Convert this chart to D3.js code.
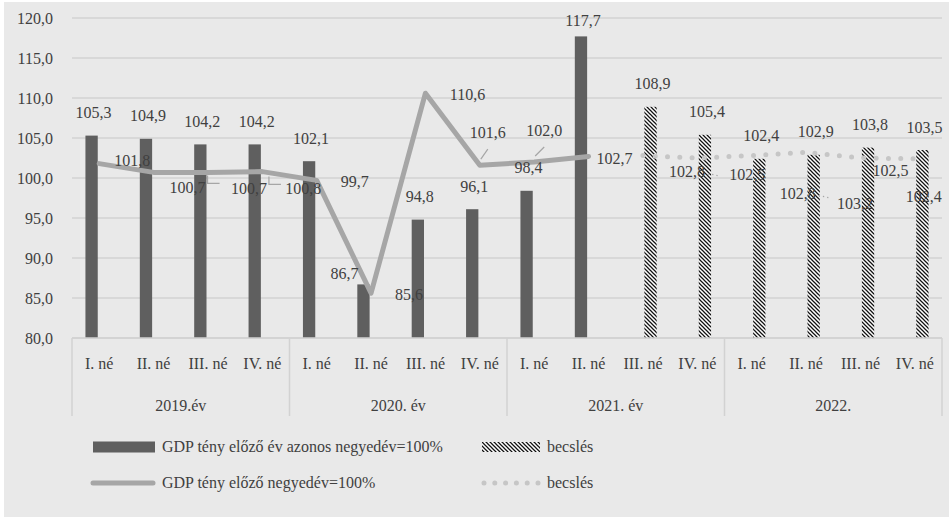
<!DOCTYPE html>
<html>
<head>
<meta charset="utf-8">
<script src="https://cdn.jsdelivr.net/npm/d3@7/dist/d3.min.js"></script>
<style>
  html, body { margin: 0; padding: 0; background: #ffffff; }
  svg { display: block; }
</style>
</head>
<body>
<svg id="chart" width="949" height="517"></svg>
<script>
// Quarterly GDP index: actual and estimated values
const years = ["2019.év", "2020. év", "2021. év", "2022."];
const quarters = ["I. né", "II. né", "III. né", "IV. né"];
const yTicks = [80, 85, 90, 95, 100, 105, 110, 115, 120];

// previous year same quarter = 100%
const yoyActual   = [105.3, 104.9, 104.2, 104.2, 102.1, 86.7, 94.8, 96.1, 98.4, 117.7, null, null, null, null, null, null];
const yoyEstimate = [null, null, null, null, null, null, null, null, null, null, 108.9, 105.4, 102.4, 102.9, 103.8, 103.5];
// previous quarter = 100%
const qoqActual   = [101.8, 100.7, 100.7, 100.8, 99.7, 85.6, 110.6, 101.6, 102.0, 102.7, null, null, null, null, null, null];
const qoqEstimate = [null, null, null, null, null, null, null, null, null, null, 102.8, 102.5, 102.8, 103.2, 102.5, 102.4];

const legendLabels = ["GDP tény előző év azonos negyedév=100%", "becslés", "GDP tény előző negyedév=100%", "becslés"];

const fmt = v => d3.format(".1f")(v).replace(".", ",");
const FONT = "'Liberation Serif', 'Times New Roman', serif";

// label placement for the line series (offset of the label centre from its point)
const lineLabelOffset = [
  [33, -3], [34, 15], [41, 16], [41, 17], [38, 1], [38, 1], [42, 1], [8, -33], [10, -32], [26, 2],
  [44, 16], [50, 16], [46, 38], [49, 51], [30, 12], [9, 38]
];

const svg = d3.select("#chart");
const W = 949, H = 517;
const M = { left: 72, right: 942, top: 18, bottom: 338 };

svg.append("rect").attr("x", 4).attr("y", 2).attr("width", W - 4).attr("height", H - 2).attr("fill", "#e9e9e9");

const defs = svg.append("defs");
const pat = defs.append("pattern")
  .attr("id", "hatch").attr("patternUnits", "userSpaceOnUse")
  .attr("width", 4).attr("height", 4);
pat.append("rect").attr("width", 4).attr("height", 4).attr("fill", "#ffffff");
pat.append("path")
  .attr("d", "M-1,-1 L5,5 M3,-1 L5,1 M-1,3 L1,5")
  .attr("stroke", "#111").attr("stroke-width", 1.25);

const idx = d3.range(16);
const x = d3.scaleBand().domain(idx).range([M.left, M.right]).padding(0);
const xs = d3.scaleBand().domain(["tény", "becslés"]).range([0, x.bandwidth()])
  .paddingInner(0.19).paddingOuter(0.885);
const y = d3.scaleLinear().domain([80, 120]).range([M.bottom, M.top]);
const cx = i => x(i) + x.bandwidth() / 2;

// grid
const grid = svg.append("g");
grid.selectAll("line").data(yTicks).join("line")
  .attr("x1", M.left).attr("x2", M.right)
  .attr("y1", d => y(d)).attr("y2", d => y(d))
  .attr("stroke", "#d2d2d2").attr("stroke-width", 1.5);

// y axis labels
const yAxis = d3.axisLeft(y).tickValues(yTicks).tickFormat(fmt).tickSize(0).tickPadding(19);
const ya = svg.append("g").attr("transform", `translate(${M.left},0)`).call(yAxis)
  .attr("font-family", null).attr("font-size", null);
ya.select(".domain").remove();
ya.selectAll("text").attr("font-size", 16).attr("fill", "#404040").attr("dy", "0.34em");

// bars
const barG = svg.append("g");
barG.selectAll("rect.act").data(idx.filter(i => yoyActual[i] != null)).join("rect")
  .attr("class", "act")
  .attr("x", i => x(i) + xs("tény")).attr("width", xs.bandwidth())
  .attr("y", i => y(yoyActual[i])).attr("height", i => y(80) - y(yoyActual[i]))
  .attr("fill", "#5f5f5f");
barG.selectAll("rect.est").data(idx.filter(i => yoyEstimate[i] != null)).join("rect")
  .attr("class", "est")
  .attr("x", i => x(i) + xs("becslés")).attr("width", xs.bandwidth())
  .attr("y", i => y(yoyEstimate[i])).attr("height", i => y(80) - y(yoyEstimate[i]))
  .attr("fill", "url(#hatch)");

// lines
const line = d3.line().defined(d => d.v != null).x(d => cx(d.i)).y(d => y(d.v));
svg.append("path")
  .attr("d", line(idx.map(i => ({ i, v: qoqActual[i] }))))
  .attr("fill", "none").attr("stroke", "#a6a6a6").attr("stroke-width", 5)
  .attr("stroke-linejoin", "round").attr("stroke-linecap", "round");
svg.append("path")
  .attr("d", line(idx.map(i => ({ i, v: qoqEstimate[i] }))))
  .attr("fill", "none").attr("stroke", "#c6c6c6").attr("stroke-width", 5)
  .attr("stroke-dasharray", "0 12.3").attr("stroke-linecap", "round");

// x axis: baseline, group separators, quarter & year labels
const xa = svg.append("g");
xa.append("line").attr("x1", M.left).attr("x2", M.right).attr("y1", M.bottom).attr("y2", M.bottom)
  .attr("stroke", "#d2d2d2").attr("stroke-width", 1.5);
xa.selectAll("line.sep").data(d3.range(5)).join("line").attr("class", "sep")
  .attr("x1", k => k < 4 ? x(k * 4) : M.right).attr("x2", k => k < 4 ? x(k * 4) : M.right)
  .attr("y1", M.bottom).attr("y2", 416)
  .attr("stroke", "#d2d2d2").attr("stroke-width", 1.5);
xa.selectAll("text.q").data(idx).join("text").attr("class", "q")
  .attr("x", i => cx(i)).attr("y", 368.5).attr("text-anchor", "middle").attr("font-size", 16)
  .text(i => quarters[i % 4]);
xa.selectAll("text.yr").data(years).join("text").attr("class", "yr")
  .attr("x", (d, k) => (x(k * 4) + (k < 3 ? x(k * 4 + 4) : M.right)) / 2).attr("y", 410.5)
  .attr("text-anchor", "middle").attr("font-size", 16)
  .text(d => d);

// bar value labels
const labG = svg.append("g").attr("font-size", 16);
const barLab = (arr, key) => idx.filter(i => arr[i] != null).map(i => {
  const bx = x(i) + xs(key) + xs.bandwidth() / 2;
  let lx = bx + 2, ly = Math.max(y(arr[i]) - 23, 20);
  if (key === "tény" && arr[i] < 90) { lx = bx - 19; ly = y(arr[i]) - 11; }
  return { lx, ly, t: fmt(arr[i]) };
});
labG.selectAll("text.bl").data(barLab(yoyActual, "tény").concat(barLab(yoyEstimate, "becslés"))).join("text")
  .attr("class", "bl").attr("x", d => d.lx).attr("y", d => d.ly + 5.5)
  .attr("text-anchor", "middle").text(d => d.t);

// line value labels
const lineVals = idx.map(i => qoqActual[i] != null ? qoqActual[i] : qoqEstimate[i]);
const lPts = idx.map(i => ({ i, px: cx(i), py: y(lineVals[i]),
  lx: cx(i) + lineLabelOffset[i][0], ly: y(lineVals[i]) + lineLabelOffset[i][1], t: fmt(lineVals[i]) }));

// leader lines from moved labels
const leadG = svg.append("g").attr("fill", "none");
lPts.filter(d => d.ly < d.py - 20).forEach(d => {
  leadG.append("line").attr("x1", d.lx).attr("y1", d.ly + 17).attr("x2", d.px + 1).attr("y2", d.py - 6)
    .attr("stroke", "#a6a6a6").attr("stroke-width", 1.2);
});
[1, 2].forEach(i => {
  const d = lPts[i];
  leadG.append("path")
    .attr("d", `M${d.lx + 20},${d.ly - 12} L${d.lx + 20},${d.ly - 4} L${d.lx + 32},${d.ly - 4}`)
    .attr("stroke", "#a6a6a6").attr("stroke-width", 1.2);
});
[10, 12].forEach(i => {
  const d = lPts[i];
  leadG.append("line").attr("x1", d.lx + 21).attr("x2", d.lx + 31).attr("y1", d.ly + 2).attr("y2", d.ly + 4)
    .attr("stroke", "#a6a6a6").attr("stroke-width", 1.3).attr("stroke-dasharray", "1.3 3");
});

labG.selectAll("text.ll").data(lPts).join("text")
  .attr("class", "ll").attr("x", d => d.lx).attr("y", d => d.ly + 5.5)
  .attr("text-anchor", "middle").text(d => d.t);

// legend
const lg = svg.append("g").attr("font-size", 16);
lg.append("rect").attr("x", 93).attr("y", 441.5).attr("width", 62).attr("height", 11).attr("fill", "#5f5f5f");
lg.append("text").attr("x", 162).attr("y", 452).text(legendLabels[0]);
lg.append("rect").attr("x", 482).attr("y", 442).attr("width", 58).attr("height", 10).attr("fill", "url(#hatch)");
lg.append("text").attr("x", 547).attr("y", 452).text(legendLabels[1]);
lg.append("line").attr("x1", 93).attr("x2", 153).attr("y1", 483).attr("y2", 483)
  .attr("stroke", "#a6a6a6").attr("stroke-width", 5).attr("stroke-linecap", "round");
lg.append("text").attr("x", 162).attr("y", 488).text(legendLabels[2]);
lg.append("line").attr("x1", 484).attr("x2", 538).attr("y1", 483).attr("y2", 483)
  .attr("stroke", "#c6c6c6").attr("stroke-width", 5).attr("stroke-linecap", "round")
  .attr("stroke-dasharray", "0 10.8");
lg.append("text").attr("x", 547).attr("y", 488).text(legendLabels[3]);

// shared typography
svg.selectAll("text").style("font-family", FONT).style("fill", "#404040");
</script>
</body>
</html>
